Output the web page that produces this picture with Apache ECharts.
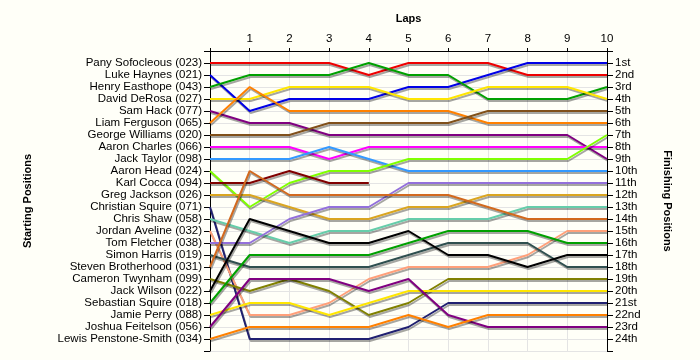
<!DOCTYPE html>
<html>
<head>
<meta charset="utf-8">
<script src="https://cdn.jsdelivr.net/npm/echarts@6/dist/echarts.min.js"></script>
<style>
html,body{margin:0;padding:0;background:#FFFFF8;}
#chart{width:700px;height:360px;}
</style>
</head>
<body>
<div id="chart"></div>
<script>
const laps = [0, 1, 2, 3, 4, 5, 6, 7, 8, 9, 10];
const lapLabels = ['', '1', '2', '3', '4', '5', '6', '7', '8', '9', '10'];
const drivers = [
  'Pany Sofocleous (023)', 'Luke Haynes (021)', 'Henry Easthope (043)', 'David DeRosa (027)',
  'Sam Hack (077)', 'Liam Ferguson (065)', 'George Williams (020)', 'Aaron Charles (066)',
  'Jack Taylor (098)', 'Aaron Head (024)', 'Karl Cocca (094)', 'Greg Jackson (026)',
  'Christian Squire (071)', 'Chris Shaw (058)', 'Jordan Aveline (032)', 'Tom Fletcher (038)',
  'Simon Harris (019)', 'Steven Brotherhood (031)', 'Cameron Twynham (099)', 'Jack Wilson (022)',
  'Sebastian Squire (018)', 'Jamie Perry (088)', 'Joshua Feitelson (056)', 'Lewis Penstone-Smith (034)'
];
const finishLabels = ['1st','2nd','3rd','4th','5th','6th','7th','8th','9th','10th','11th','12th',
  '13th','14th','15th','16th','17th','18th','19th','20th','21st','22nd','23rd','24th'];

// positions per lap (lap 0 .. lap 10), one array per driver in starting order
const posPany       = [1, 1, 1, 1, 2, 1, 1, 1, 2, 2, 2];
const posLuke       = [2, 5, 4, 4, 4, 3, 3, 2, 1, 1, 1];
const posHenry      = [3, 2, 2, 2, 1, 2, 2, 4, 4, 4, 3];
const posDavid      = [4, 4, 3, 3, 3, 4, 4, 3, 3, 3, 4];
const posSam        = [5, 6, 6, 7, 7, 7, 7, 7, 7, 7, 9];
const posLiam       = [6, 3, 5, 5, 5, 5, 5, 6, 6, 6, 6];
const posGeorge     = [7, 7, 7, 6, 6, 6, 6, 5, 5, 5, 5];
const posAaronC     = [8, 8, 8, 9, 8, 8, 8, 8, 8, 8, 8];
const posJackT      = [9, 9, 9, 8, 9, 10, 10, 10, 10, 10, 10];
const posAaronH     = [10, 13, 11, 10, 10, 9, 9, 9, 9, 9, 7];
const posKarl       = [11, 11, 10, 11, 11];
const posGreg       = [12, 12, 13, 14, 14, 13, 13, 12, 12, 12, 12];
const posChristian  = [13, 24, 24, 24, 24, 23, 21, 21, 21, 21, 21];
const posChris      = [14, 15, 16, 15, 15, 14, 14, 14, 13, 13, 13];
const posJordan     = [15, 22, 22, 21, 19, 18, 18, 18, 17, 15, 15];
const posTom        = [16, 16, 14, 13, 13, 11, 11, 11, 11, 11, 11];
const posSimon      = [17, 18, 18, 18, 18, 17, 16, 16, 16, 18, 18];
const posSteven     = [18, 10, 12, 12, 12, 12, 12, 13, 14, 14, 14];
const posCameron    = [19, 20, 19, 20, 22, 21, 19, 19, 19, 19, 19];
const posJackW      = [20, 14, 15, 16, 16, 15, 17, 17, 18, 17, 17];
const posSebastian  = [21, 17, 17, 17, 17, 16, 15, 15, 15, 16, 16];
const posJamie      = [22, 21, 21, 22, 21, 20, 20, 20, 20, 20, 20];
const posJoshua     = [23, 19, 19, 19, 20, 19, 22, 23, 23, 23, 23];
const posLewis      = [24, 23, 23, 23, 23, 22, 23, 22, 22, 22, 22];

const allPositions = [posPany, posLuke, posHenry, posDavid, posSam, posLiam, posGeorge, posAaronC,
  posJackT, posAaronH, posKarl, posGreg, posChristian, posChris, posJordan, posTom, posSimon,
  posSteven, posCameron, posJackW, posSebastian, posJamie, posJoshua, posLewis];

const colors = ['#EE0000', '#0000E6', '#00A000', '#FFE600', '#800080', '#FF8000', '#80501A', '#FF00FF',
  '#3399FF', '#80FF00', '#800000', '#DAA520', '#202070', '#66CDAA', '#FFA07A', '#9370DB',
  '#2F4F4F', '#D2691E', '#808000', '#000000', '#00A000', '#FFE600', '#800080', '#FF8000'];

const FONT = '"Liberation Sans", Arial, sans-serif';

const series = allPositions.map((pos, i) => ({
  name: drivers[i],
  type: 'line',
  yAxisIndex: 0,
  symbol: 'none',
  silent: true,
  data: pos.map((p, k) => [laps[k], p]),
  lineStyle: {
    color: colors[i], width: 2,
    shadowColor: 'rgba(0,0,0,0.35)', shadowBlur: 0, shadowOffsetX: 1, shadowOffsetY: 2
  },
  emphasis: { disabled: true },
  z: 2
}));

const chart = echarts.init(document.getElementById('chart'), null, { renderer: 'canvas' });
chart.setOption({
  backgroundColor: '#FFFFF8',
  animation: false,
  textStyle: { fontFamily: FONT },
  grid: { left: 210, top: 51, width: 397, height: 300, show: false },
  xAxis: {
    type: 'value', position: 'top', min: 0, max: 10, interval: 1,
    axisLine: { show: true, onZero: false, lineStyle: { color: '#000', width: 1 } },
    axisTick: { show: true, length: 3, lineStyle: { color: '#000' } },
    axisLabel: { formatter: v => lapLabels[v] || '', color: '#000', fontSize: 11.5, fontFamily: FONT, margin: 6 },
    splitLine: { show: true, lineStyle: { color: '#E4E4E4', width: 1 } },
    name: 'Laps', nameLocation: 'middle', nameGap: 27,
    nameTextStyle: { fontWeight: 'bold', fontSize: 11, color: '#000', fontFamily: FONT }
  },
  yAxis: [
    {
      type: 'value', position: 'left', inverse: true, min: 0, max: 25, interval: 1,
      axisLine: { show: true, onZero: false, lineStyle: { color: '#000', width: 1 } },
      axisTick: { show: true, length: 6, lineStyle: { color: '#000' } },
      axisLabel: { formatter: v => drivers[v - 1] || '', color: '#000', fontSize: 11.5, fontFamily: FONT, margin: 8 },
      splitLine: { show: true, lineStyle: { color: '#E4E4E4', width: 1 } },
      name: 'Starting Positions', nameLocation: 'middle', nameGap: 177, nameRotate: 90,
      nameTextStyle: { fontWeight: 'bold', fontSize: 11, color: '#000', fontFamily: FONT }
    },
    {
      type: 'value', position: 'right', inverse: true, min: 0, max: 25, interval: 1,
      axisLine: { show: true, onZero: false, lineStyle: { color: '#000', width: 1 } },
      axisTick: { show: true, length: 6, lineStyle: { color: '#000' } },
      axisLabel: { formatter: v => finishLabels[v - 1] || '', color: '#000', fontSize: 11.5, fontFamily: FONT, margin: 8 },
      splitLine: { show: false },
      name: 'Finishing Positions', nameLocation: 'middle', nameGap: 55, nameRotate: -90,
      nameTextStyle: { fontWeight: 'bold', fontSize: 11, color: '#000', fontFamily: FONT }
    }
  ],
  series: series
});
</script>
</body>
</html>
